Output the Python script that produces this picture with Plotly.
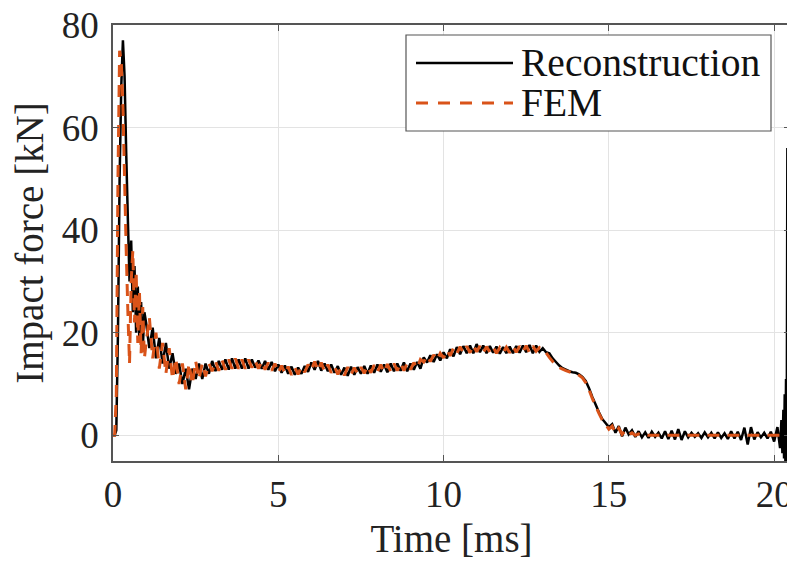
import numpy as np
import plotly.graph_objects as go

# ---------------- data ----------------
t_early = [0, 0.05, 0.1, 0.15, 0.2, 0.25, 0.3, 0.35, 0.4, 0.45,
           0.5, 0.55, 0.6, 0.65, 0.7, 0.75, 0.8, 0.85, 0.9, 0.95]
t_main = [float(v) for v in np.round(np.arange(1.0, 20.15, 0.1), 2)]   # 1.0 ... 20.1
t_tail = [20.18, 20.22, 20.25, 20.28, 20.3, 20.32, 20.34, 20.36, 20.38, 20.4, 20.42, 20.45, 20.48]

recon_early = [0, 0, 1, 20, 50, 68, 77, 70, 55, 42,
               30, 38, 24, 33, 20, 29, 18, 26, 17, 24]
recon_main = [
    22, 17, 21, 15, 19, 14, 18, 13, 16, 12,
    14, 10, 13, 9, 13, 11, 14, 11, 14, 12,
    14.5, 12.5, 14.5, 12.8, 14.8, 12.8, 15, 13, 14.8, 13,
    15, 13, 14.8, 13.2, 14.6, 13, 14.5, 12.8, 14.3, 12.5,
    13.8, 12.2, 13.6, 12, 13.4, 11.8, 13.2, 12, 13.5, 12.4,
    14.2, 12.8, 14.5, 12.6, 14, 12.5, 13.8, 12.2, 13.5, 11.8,
    13.2, 11.6, 13.4, 11.8, 13.3, 12, 13.5, 12, 13.6, 12.2,
    13.8, 12.4, 13.8, 12.3, 14, 12.5, 14, 12.6, 14.2, 12.5,
    14, 12.8, 14.3, 13, 15.2, 14.2, 15.6, 14.3, 15.8, 14.6,
    16.2, 15, 16.8, 15.4, 17.2, 15.8, 17.4, 16, 17.5, 16,
    17.8, 16.2, 17.5, 16, 17.4, 16.1, 17.3, 15.9, 17.2, 16,
    17.3, 16, 17.4, 16.1, 17.5, 16.2, 17.6, 16, 17.5, 16.3,
    17, 16.2, 16, 15, 14.3, 13.6, 13.1, 12.8, 12.5, 12.3,
    12.2, 11.9, 11.4, 10.6, 9.2, 7.5, 6, 4.5, 3.2, 2.4,
    1.6, 2.2, 0.5, 1.8, -0.2, 1.5, 0.2, 1, -0.3, 0.8,
    -0.4, 0.6, -0.5, 0.7, -0.3, 0.5, -0.6, 0.8, -0.7, 0.9,
    -0.8, 1.2, -0.9, 0.8, -0.4, 0.5, -0.3, 0.4, -0.5, 0.6,
    -0.4, 0.5, -0.6, 0.6, -0.5, 0.4, -0.7, 0.8, -0.6, 0.7,
    -0.9, 1.5, -1.8, 1.6, -0.8, 0.6, -0.4, 0.5, -0.6, 0.7,
    -1.2, 1.6,
]
recon_tail = [-2.5, 3, -3.5, 5, -4.5, 8, -5, 11, -5, 56, -5, 12, -5]

fem_early = [0, 0, 8, 50, 75, 73, 64, 50, 36, 24,
             14, 30, 36, 22, 32, 18, 28, 16, 25, 15]
fem_main = [
    18, 23, 15, 20, 13, 18, 12, 17, 11, 15,
    10, 14, 9, 14, 10, 14.5, 11, 14, 11.5, 14,
    12.5, 14.5, 12.6, 14.6, 12.8, 14.8, 13, 15, 13, 14.8,
    13, 14.8, 13.2, 14.6, 13, 14.4, 12.8, 14.2, 12.6, 14,
    12.2, 13.6, 12, 13.4, 11.8, 13.2, 11.9, 13.4, 12.3, 13.8,
    12.7, 14.4, 12.6, 14.2, 12.4, 13.8, 12.2, 13.4, 11.9, 13.1,
    11.7, 13.3, 11.8, 13.2, 12, 13.3, 12.1, 13.5, 12.2, 13.7,
    12.4, 13.8, 12.3, 13.9, 12.5, 14, 12.6, 14.1, 12.6, 14.1,
    12.8, 14.2, 13.1, 14.8, 14.3, 15.5, 14.4, 15.7, 14.7, 16,
    15.1, 16.6, 15.5, 17, 15.9, 17.3, 16.1, 17.4, 16.1, 17.6,
    16.3, 17.4, 16.1, 17.3, 16.2, 17.2, 16, 17.1, 16.1, 17.2,
    16.1, 17.3, 16.2, 17.4, 16.3, 17.5, 16.1, 17.4, 16.4, 17.1,
    16.5, 16.1, 15.2, 14.4, 13.8, 13.2, 12.9, 12.6, 12.4, 12.2,
    12.1, 11.7, 11.2, 10.3, 8.9, 7.2, 5.7, 4.3, 3, 2.1,
    1.2, 1.8, 0.4, 1.4, 0.2, 0.9, 0.1, 0.5, 0, 0.3,
    0, 0.1, 0, 0, 0, 0, 0, 0, 0, 0,
    0, 0, 0, 0, 0, 0, 0, 0, 0, 0,
    0, 0, 0, 0, 0, 0, 0, 0, 0, 0,
    0, 0, 0, 0, 0, 0, 0, 0, 0, 0,
    0, 0,
]
fem_tail = [0, 0, 0, 0, 0, 0, 0, 0, 0, 0, 0, 0, 0]

x_ticks = [0, 5, 10, 15, 20]
y_ticks = [0, 20, 40, 60, 80]
series_names = ["Reconstruction", "FEM"]

t_all = t_early + t_main + t_tail
recon = recon_early + recon_main + recon_tail
fem = fem_early + fem_main + fem_tail

BLACK = "#000000"
ORANGE = "#D95319"
FONT = "Liberation Serif"

fig = go.Figure()
fig.add_trace(go.Scatter(x=t_all, y=recon, mode="lines", name=series_names[0],
                         line=dict(color=BLACK, width=2.5, simplify=False),
                         showlegend=False))
fig.add_trace(go.Scatter(x=t_all, y=fem, mode="lines", name=series_names[1],
                         line=dict(color=ORANGE, width=3, dash="12px,8px", simplify=False),
                         showlegend=False))

# The page body has an 8px margin, so the figure is shifted by 8px;
# size the figure so the plot area lands where the reference has it
# and the page does not overflow the window vertically.
OFF = 8
FIG_W, FIG_H = 795 - OFF, 574 - 2 * OFF - 6
# plot area in window pixels: left 113, right 790, top 25, bottom 461
L, R, T, B = 113, 790, 25, 461
W, H = R - L, B - T


def px(x):
    return (x - L) / W


def py(y):
    return (B - y) / H


shapes = [
    dict(type="rect", xref="paper", yref="paper", x0=px(406), x1=px(771),
         y0=py(131), y1=py(35), line=dict(color="#555555", width=1.2),
         fillcolor="white", layer="above"),
    dict(type="line", xref="paper", yref="paper", x0=px(416), x1=px(513),
         y0=py(63), y1=py(63), line=dict(color=BLACK, width=2.5), layer="above"),
    dict(type="line", xref="paper", yref="paper", x0=px(416), x1=px(513),
         y0=py(103), y1=py(103), line=dict(color=ORANGE, width=3, dash="12px,10px"),
         layer="above"),
]
annotations = [
    dict(xref="paper", yref="paper", x=px(519), y=py(63), text=series_names[0],
         showarrow=False, xanchor="left", yanchor="middle",
         font=dict(family=FONT, size=39.5, color="#111111")),
    dict(xref="paper", yref="paper", x=px(519), y=py(103), text=series_names[1],
         showarrow=False, xanchor="left", yanchor="middle",
         font=dict(family=FONT, size=39.5, color="#111111")),
]

axis_common = dict(
    showline=True, linecolor="#555555", linewidth=1.5, mirror="ticks",
    ticks="inside", ticklen=6, tickcolor="#555555", tickwidth=1.2,
    showgrid=True, gridcolor="#e3e3e3", gridwidth=1, zeroline=False,
    automargin=False, ticklabeloverflow="allow",
    tickfont=dict(family=FONT, size=37, color="#222222"),
)

fig.update_layout(
    width=FIG_W, height=FIG_H,
    margin=dict(l=L - OFF, r=max(FIG_W - (R - OFF), 0), t=T - OFF, b=FIG_H - (B - OFF),
                autoexpand=False),
    paper_bgcolor="white", plot_bgcolor="white",
    font=dict(family=FONT, color="#222222"),
    shapes=shapes, annotations=annotations,
    xaxis=dict(range=[0, 20.48], tickvals=x_ticks, ticktext=[str(v) for v in x_ticks],
               title=dict(text="Time [ms]", font=dict(family=FONT, size=39), standoff=14),
               ticklabelstandoff=0,
               **axis_common),
    yaxis=dict(range=[-5, 80], tickvals=y_ticks, ticktext=[str(v) for v in y_ticks],
               title=dict(text="Impact force [kN]", font=dict(family=FONT, size=39), standoff=10),
               ticklabelstandoff=5,
               **axis_common),
)

fig.write_html("out.html")
